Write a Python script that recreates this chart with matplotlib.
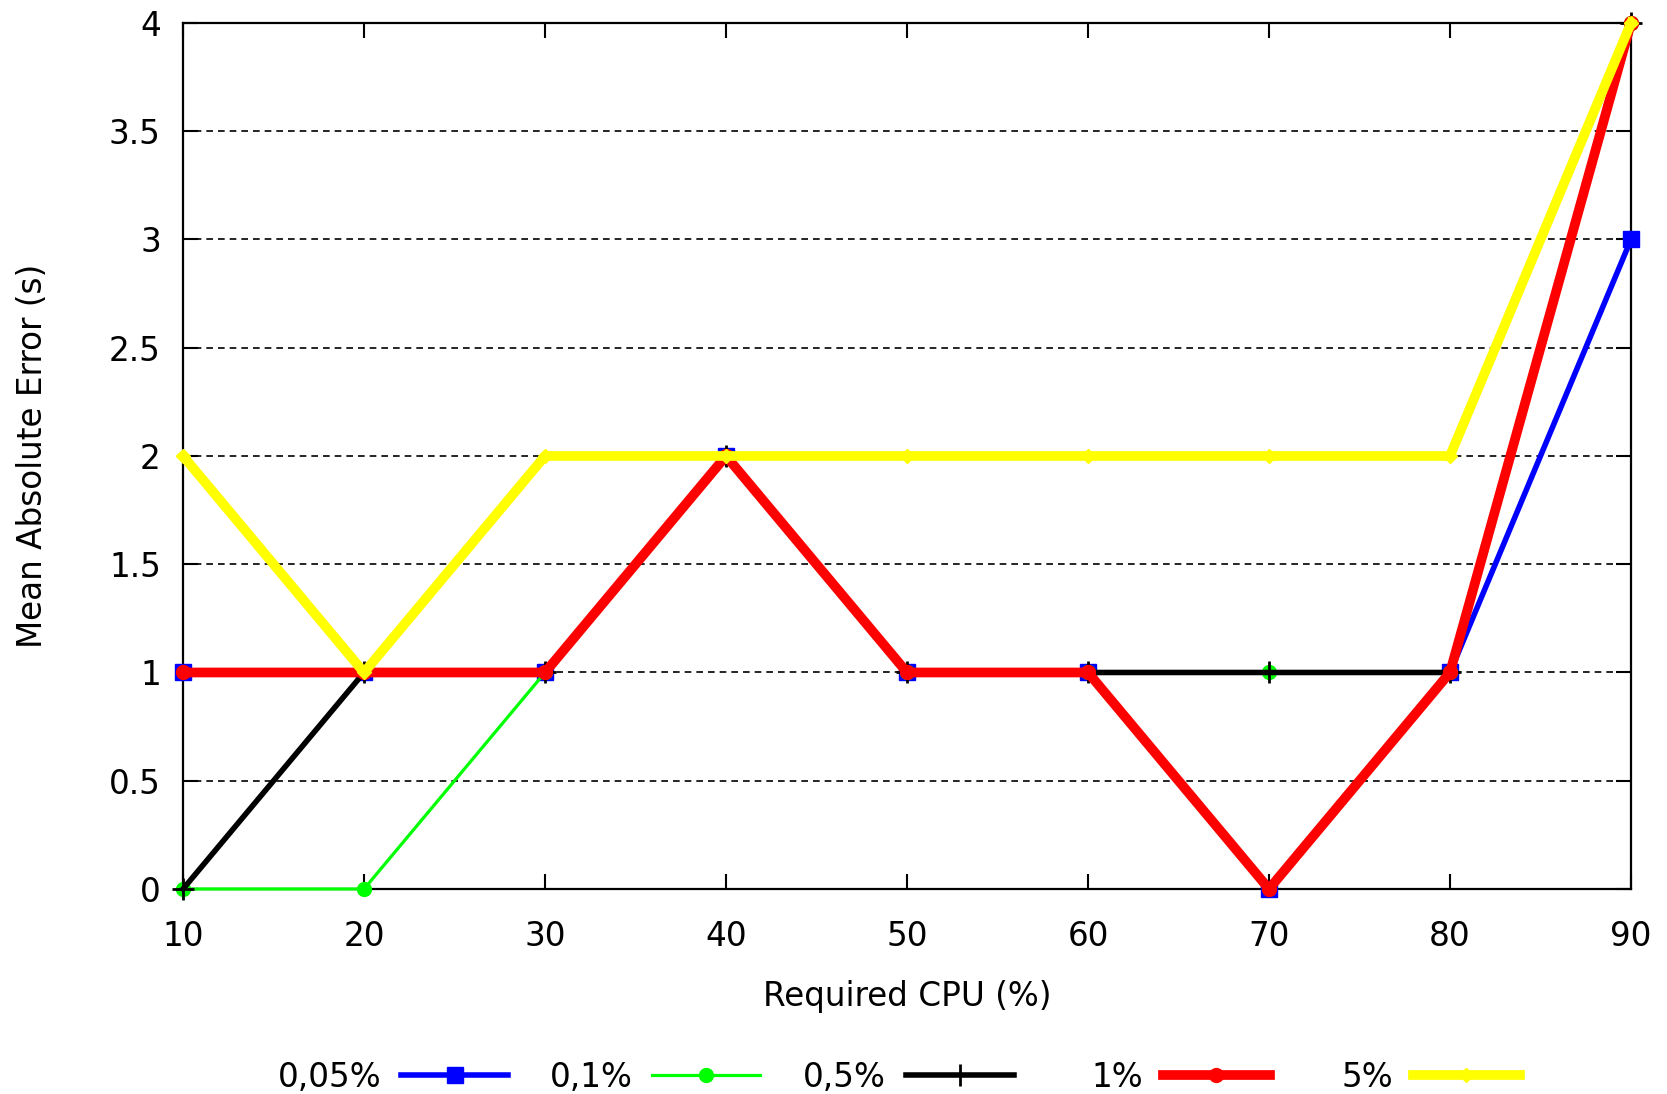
import matplotlib
matplotlib.use("Agg")
import matplotlib.pyplot as plt

# Required CPU (%)
cpu = [10, 20, 30, 40, 50, 60, 70, 80, 90]

# Mean absolute error (s) per threshold
err_005 = [1, 1, 1, 2, 1, 1, 0, 1, 3]
err_01 = [0, 0, 1, 2, 1, 1, 1, 1, 4]
err_05 = [0, 1, 1, 2, 1, 1, 1, 1, 4]
err_1 = [1, 1, 1, 2, 1, 1, 0, 1, 4]
err_5 = [2, 1, 2, 2, 2, 2, 2, 2, 4]

labels = ["0,05%", "0,1%", "0,5%", "1%", "5%"]
yticks = [0, 0.5, 1, 1.5, 2, 2.5, 3, 3.5, 4]
ytick_labels = ["0", "0.5", "1", "1.5", "2", "2.5", "3", "3.5", "4"]

plt.rcParams['font.family'] = ['DejaVu Sans']
fs = 23.5

fig = plt.figure(figsize=(16.67, 10.94), dpi=100)
ax = fig.add_axes([0.1098, 0.1874, 0.8686, 0.7916])

h1, = ax.plot(cpu, err_005, color='#0000ff', lw=4, marker='s', ms=11, label=labels[0], clip_on=False, zorder=3)
h2, = ax.plot(cpu, err_01, color='#00ff00', lw=2.3, marker='o', ms=10, label=labels[1], clip_on=False, zorder=4)
h3, = ax.plot(cpu, err_05, color='black', lw=4, marker='+', ms=16, mew=2, label=labels[2], clip_on=False, zorder=5)
h4, = ax.plot(cpu, err_1, color='#ff0000', lw=7, marker='o', ms=10, label=labels[3], clip_on=False, zorder=6)
h5, = ax.plot(cpu, err_5, color='#ffff00', lw=7, marker='D', ms=7, label=labels[4], clip_on=False, zorder=7)

ax.set_xlim(10, 90)
ax.set_ylim(0, 4)
ax.set_xticks(cpu)
ax.set_yticks(yticks)
ax.set_yticklabels(ytick_labels)
ax.tick_params(direction='in', length=11, width=1.5, top=True, right=True, labelsize=fs)
ax.tick_params(axis='x', pad=22)
ax.tick_params(axis='y', pad=16)
ax.yaxis.grid(True, linestyle=(0, (4, 3)), color='black', lw=1.2)
for s in ax.spines.values():
    s.set_linewidth(1.6)

xl = ax.set_xlabel('Required CPU (%)', fontsize=fs)
xl.set_va('center')
ax.xaxis.set_label_coords(0.5, -0.124)
yl = ax.set_ylabel('Mean Absolute Error (s)', fontsize=fs)
yl.set_va('center')
ax.yaxis.set_label_coords(-0.104, 0.5)

# legend entries: text then line sample, one per column
handles = [h1, h2, h3, h4, h5]
ends = [0.305, 0.456, 0.608, 0.762, 0.912]
for h, lab, xe in zip(handles, labels, ends):
    fig.legend([h], [lab], loc='center right', bbox_to_anchor=(xe, 0.0155),
               frameon=False, markerfirst=False, numpoints=1, fontsize=fs,
               handlelength=3.3, handletextpad=0.6, borderpad=0, borderaxespad=0)

fig.savefig('out.png', dpi=100)
